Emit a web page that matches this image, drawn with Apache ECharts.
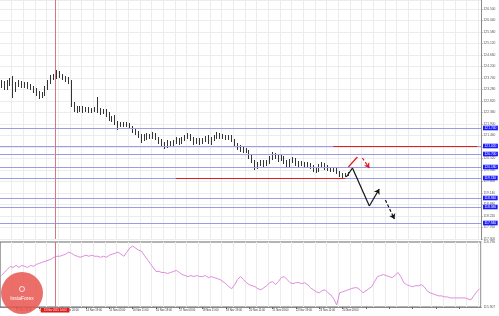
<!DOCTYPE html>
<html><head><meta charset="utf-8">
<script src="https://cdn.jsdelivr.net/npm/echarts@6/dist/echarts.min.js"></script>
<style>html,body{margin:0;padding:0;background:#fff}#c{width:499px;height:316px}</style>
</head><body><div id="c"></div>
<script>
const barCount = 165;
const tickFirst = 5, tickStep = 8;
const tickLabels = ['12 Nov 14:00','13 Nov 06:00','13 Nov 20:00','14 Nov 19:00','15 Nov 03:00','16 Nov 11:00','16 Nov 19:00','17 Nov 03:00','18 Nov 11:00','18 Nov 19:00','20 Nov 11:00','21 Nov 03:00','22 Nov 19:00','23 Nov 11:00','24 Nov 03:00'];

// [open, close, low, high]
const ohlc = [
[123.46,123.54,123.34,123.66],[123.54,123.38,123.26,123.62],[123.38,123.50,123.26,123.66],[123.50,123.58,123.42,123.74],
[123.58,123.26,122.94,123.82],[123.26,123.50,123.18,123.58],[123.50,123.54,123.38,123.66],[123.54,123.42,123.34,123.62],
[123.42,123.50,123.34,123.58],[123.50,123.42,123.30,123.58],[123.42,123.34,123.26,123.50],[123.34,123.22,123.14,123.42],
[123.22,123.14,123.02,123.34],[123.14,123.02,122.90,123.22],[123.02,123.10,122.94,123.18],[123.10,123.34,123.02,123.42],
[123.34,123.58,123.26,123.66],[123.58,123.78,123.50,123.86],[123.78,123.82,123.66,123.90],[123.82,123.94,123.70,124.06],
[123.94,123.82,123.74,124.02],[123.82,123.74,123.66,123.90],[123.74,123.70,123.58,123.82],[123.70,123.62,123.50,123.78],
[123.62,122.70,122.58,123.66],[122.70,122.54,122.38,122.78],[122.54,122.46,122.34,122.62],[122.46,122.54,122.38,122.62],
[122.54,122.46,122.34,122.62],[122.46,122.50,122.38,122.58],[122.50,122.42,122.34,122.58],[122.42,122.46,122.34,122.54],
[122.46,122.50,122.38,122.58],[122.50,122.46,122.34,122.98],[122.46,122.38,122.26,122.54],[122.38,122.42,122.30,122.50],
[122.42,122.30,122.18,122.50],[122.30,122.14,122.02,122.38],[122.14,122.06,121.98,122.22],[122.06,121.94,121.86,122.26],
[121.94,121.82,121.66,122.02],[121.82,121.90,121.78,121.98],[121.90,121.86,121.78,121.98],[121.86,121.90,121.78,121.98],
[121.90,121.78,121.70,121.94],[121.78,121.66,121.54,121.82],[121.66,121.54,121.46,121.74],[121.54,121.42,121.34,121.62],
[121.42,121.30,121.14,121.50],[121.30,121.38,121.22,121.50],[121.38,121.42,121.26,121.54],[121.42,121.38,121.30,121.50],
[121.38,121.46,121.30,121.58],[121.46,121.34,121.26,121.54],[121.34,121.22,121.10,121.38],[121.22,121.10,120.98,121.30],
[121.10,121.02,120.90,121.18],[121.02,121.14,120.94,121.26],[121.14,121.06,120.98,121.22],[121.06,121.18,121.02,121.26],
[121.18,121.26,121.10,121.38],[121.26,121.18,121.06,121.34],[121.18,121.30,121.10,121.38],[121.30,121.38,121.22,121.46],
[121.38,121.46,121.30,121.54],[121.46,121.30,121.22,121.50],[121.30,121.18,121.06,121.38],[121.18,121.26,121.10,121.34],
[121.26,121.18,121.06,121.34],[121.18,121.26,121.10,121.34],[121.26,121.34,121.18,121.42],[121.34,121.22,121.10,121.46],
[121.22,121.30,121.06,121.38],[121.30,121.38,121.22,121.46],[121.38,121.50,121.30,121.58],[121.50,121.38,121.30,121.54],
[121.38,121.42,121.30,121.50],[121.42,121.34,121.26,121.46],[121.34,121.38,121.26,121.46],[121.38,121.26,121.18,121.46],
[121.26,121.10,120.98,121.30],[121.10,120.98,120.86,121.14],[120.98,120.90,120.78,121.06],[120.90,120.86,120.74,120.98],
[120.86,120.82,120.74,120.94],[120.82,120.62,120.50,120.86],[120.62,120.42,120.34,120.70],[120.42,120.18,120.06,120.46],
[120.18,120.26,120.10,120.38],[120.26,120.38,120.22,120.46],[120.38,120.30,120.18,120.46],[120.30,120.38,120.22,120.46],
[120.38,120.54,120.30,120.62],[120.54,120.70,120.46,120.78],[120.70,120.58,120.50,120.74],[120.58,120.50,120.38,120.66],
[120.50,120.58,120.42,120.66],[120.58,120.38,120.30,120.62],[120.38,120.26,120.14,120.46],[120.26,120.42,120.18,120.50],
[120.42,120.50,120.34,120.58],[120.50,120.34,120.22,120.54],[120.34,120.30,120.18,120.42],[120.30,120.34,120.22,120.42],
[120.34,120.26,120.18,120.38],[120.26,120.30,120.18,120.38],[120.30,120.18,120.10,120.34],[120.18,120.06,119.98,120.26],
[120.06,120.02,119.94,120.14],[120.02,120.22,119.98,120.30],[120.22,120.30,120.14,120.38],[120.30,120.18,120.06,120.34],
[120.18,120.14,120.02,120.26],[120.14,120.06,119.98,120.18],[120.06,120.10,119.98,120.18],[120.10,119.98,119.90,120.14],
[119.98,119.86,119.78,120.02],[119.86,119.82,119.74,119.94],[119.82,119.90,119.78,119.94],[119.90,119.86,119.82,119.98]
];

const pink = [
116.337,116.379,116.421,116.462,116.448,116.476,116.448,116.476,116.462,116.448,
116.476,116.462,116.490,116.504,116.518,116.532,116.546,116.560,116.587,116.601,
116.601,116.615,116.629,116.657,116.643,116.615,116.601,116.587,116.601,116.615,
116.601,116.615,116.601,116.601,116.587,116.601,116.587,116.615,116.629,116.643,
116.657,116.629,116.601,116.657,116.713,116.740,116.713,116.685,116.671,116.615,
116.560,116.504,116.448,116.393,116.393,116.379,116.379,116.365,116.379,116.393,
116.407,116.379,116.351,116.337,116.323,116.337,116.323,116.337,116.323,116.323,
116.337,116.309,116.323,116.309,116.296,116.282,116.254,116.226,116.184,116.157,
116.212,116.282,116.323,116.282,116.240,116.212,116.198,116.184,116.157,116.143,
116.170,116.198,116.240,116.254,116.212,116.254,116.309,116.323,116.282,116.240,
116.226,116.240,116.240,116.226,116.240,116.212,116.170,116.143,116.115,116.101,
116.129,116.143,116.101,116.073,116.018,115.934,116.101,116.115,116.129,116.143,
116.157,116.170,116.170,116.143,116.101,116.129,116.157,116.184,116.254,116.323,
116.337,116.351,116.337,116.323,116.309,116.337,116.379,116.323,116.240,116.212,
116.198,116.184,116.198,116.198,116.212,116.184,116.129,116.101,116.087,116.073,
116.059,116.059,116.045,116.045,116.031,116.031,116.031,116.031,116.031,116.031,
116.018,116.004,116.059,116.115,116.157
];

const upperMin = 117.30, upperMax = 126.86, upperStep = 0.46;
const lowerMin = 115.907, lowerMax = 116.796;
const levels = [121.74, 121.02, 120.70, 120.18, 119.74, 118.94, 118.58, 117.94];
const lastPrice = 119.86;
// annotation positions in bar units (hidden value axis 0..165)
const redSegments = [[[114.3,121.02],[163.8,121.02]], [[60.4,119.74],[118.5,119.74]]];
const redSolid = [[119.5,120.18],[122.6,120.58]];
const redDashed = [[124.3,120.54],[126.7,120.14]];
const blackSolid = [[118.8,119.78],[120.9,120.14],[126.7,118.62],[130.1,119.30]];
const blackDashed = [[132.2,118.86],[135.3,118.10]];
const vlinePos = 18.9;
const vlineLabel = '13 Nov 2015 14:00';

const FONT = 'Liberation Sans';
const categories = Array.from({length: barCount}, (_, i) => String(i));
const isTick = (i) => i >= tickFirst && (i - tickFirst) % tickStep === 0;
const isGrid = (i) => i > 0 && i % 4 === 0;

function poly(points, color, type, arrow) {
  const out = [];
  for (let k = 0; k < points.length - 1; k++) {
    const last = k === points.length - 2;
    out.push([
      {coord: points[k], symbol: 'none', lineStyle: {color, type, width: 1.2}, label: {show: false}},
      {coord: points[k + 1], symbol: (last && arrow) ? 'arrow' : 'none', symbolSize: 5}
    ]);
  }
  return out;
}

const annotData = [
  ...levels.map(v => ({yAxis: v})),
  {yAxis: lastPrice, lineStyle: {opacity: 0}, label: {backgroundColor: '#000'}},
  ...redSegments.map(s => [
    {coord: s[0], lineStyle: {color: '#e01e1e', width: 1.2}, label: {show: false}},
    {coord: s[1]}
  ]),
  ...poly(redSolid, '#e01e1e', 'solid', false),
  ...poly(redDashed, '#e01e1e', [3, 2], true),
  ...poly(blackSolid, '#111', 'solid', true),
  ...poly(blackDashed, '#111', [3, 2], true),
  {xAxis: vlinePos, lineStyle: {color: '#d27a7a', width: 1}, label: {show: false}}
];

const gridLine = {color: '#ececec', width: 1};
const hiddenValueX = (g) => ({type: 'value', gridIndex: g, min: 0, max: barCount, show: false,
  axisLine: {show: false, onZero: false}, splitLine: {show: false}, axisTick: {show: false}, axisLabel: {show: false}});

const chart = echarts.init(document.getElementById('c'), null, {renderer: 'canvas'});
chart.setOption({
  animation: false,
  backgroundColor: '#fff',
  textStyle: {fontFamily: FONT},
  grid: [
    {left: -1, right: 18, top: 0, height: 239},
    {left: -3, right: 18, top: 242, height: 65, show: true, borderColor: '#6a6a6a', borderWidth: 1.2, backgroundColor: 'transparent'}
  ],
  xAxis: [
    {type: 'category', gridIndex: 0, data: categories, boundaryGap: true,
     axisLine: {show: false, onZero: false}, axisTick: {show: false}, axisLabel: {show: false},
     splitLine: {show: true, interval: isGrid, lineStyle: gridLine}},
    {type: 'category', gridIndex: 1, data: categories, boundaryGap: true,
     axisLine: {show: true, onZero: false, lineStyle: {color: '#888'}},
     axisTick: {show: true, interval: (i) => isTick(i), alignWithLabel: true, length: 2, lineStyle: {color: '#666'}},
     axisLabel: {show: true, interval: (i) => isTick(i), align: 'left', fontSize: 2.7, color: '#333', margin: 2,
       fontFamily: FONT, formatter: (v, i) => tickLabels[(i - tickFirst) / tickStep] || ''},
     splitLine: {show: true, interval: isGrid, lineStyle: gridLine}},
    hiddenValueX(0),
    hiddenValueX(1)
  ],
  yAxis: [
    {type: 'value', gridIndex: 0, position: 'right', min: upperMin, max: upperMax, interval: upperStep,
     axisLine: {show: true, onZero: false, lineStyle: {color: '#8a8a8a'}},
     axisTick: {show: true, length: 1.5, lineStyle: {color: '#888'}},
     axisLabel: {fontSize: 3.3, color: '#555', margin: 2.5, fontFamily: FONT, showMaxLabel: false,
       formatter: v => v.toFixed(3)},
     splitLine: {show: true, lineStyle: gridLine}},
    {type: 'value', gridIndex: 1, position: 'right', min: lowerMin, max: lowerMax,
     axisLine: {show: false, onZero: false}, axisTick: {show: false}, splitLine: {show: false},
     axisLabel: {fontSize: 3.3, color: '#555', margin: 2.5, fontFamily: FONT,
       customValues: [lowerMin, lowerMax], formatter: v => v.toFixed(3)}}
  ],
  series: [
    {type: 'candlestick', xAxisIndex: 0, yAxisIndex: 0, data: ohlc, barWidth: 1,
     itemStyle: {color: '#000', color0: '#000', borderColor: '#000', borderColor0: '#000', borderWidth: 0.8}},
    {type: 'line', xAxisIndex: 2, yAxisIndex: 0, data: [], clip: false, silent: true,
     markLine: {silent: true, animation: false, symbol: ['none', 'none'],
       lineStyle: {color: '#9c9ce6', width: 1, type: 'solid'},
       label: {show: true, position: 'end', distance: 2, fontSize: 3.3, color: '#fff', fontFamily: FONT,
         backgroundColor: '#1a1aff', padding: [1, 1.5, 0.6, 1.5], formatter: p => Number(p.value).toFixed(3)},
       emphasis: {disabled: true},
       data: annotData}},
    {type: 'line', xAxisIndex: 1, yAxisIndex: 1, data: pink, symbol: 'none',
     lineStyle: {color: '#dc8ddc', width: 1}},
    {type: 'line', xAxisIndex: 3, yAxisIndex: 1, data: [], clip: false, silent: true,
     markLine: {silent: true, animation: false, symbol: ['none', 'none'],
       lineStyle: {color: '#d27a7a', width: 1, type: 'solid'},
       emphasis: {disabled: true},
       data: [{xAxis: vlinePos, label: {show: true, position: 'start', distance: 1, formatter: vlineLabel,
         fontSize: 2.7, color: '#fff', fontFamily: FONT, backgroundColor: '#e01b1b', padding: [1, 3, 0.5, 3]}}]}}
  ],
  graphic: [
    {type: 'circle', shape: {cx: 22, cy: 293, r: 21}, style: {fill: '#e9554f', opacity: 0.85}, z: 100},
    {type: 'circle', shape: {cx: 22, cy: 289, r: 2.5}, style: {fill: 'none', stroke: '#fff', lineWidth: 0.8}, z: 101},
    {type: 'text', style: {text: 'InstaForex', x: 22, y: 296, fill: '#fff', font: '5px ' + FONT, textAlign: 'center'}, z: 101}
  ]
});
</script>
</body></html>
